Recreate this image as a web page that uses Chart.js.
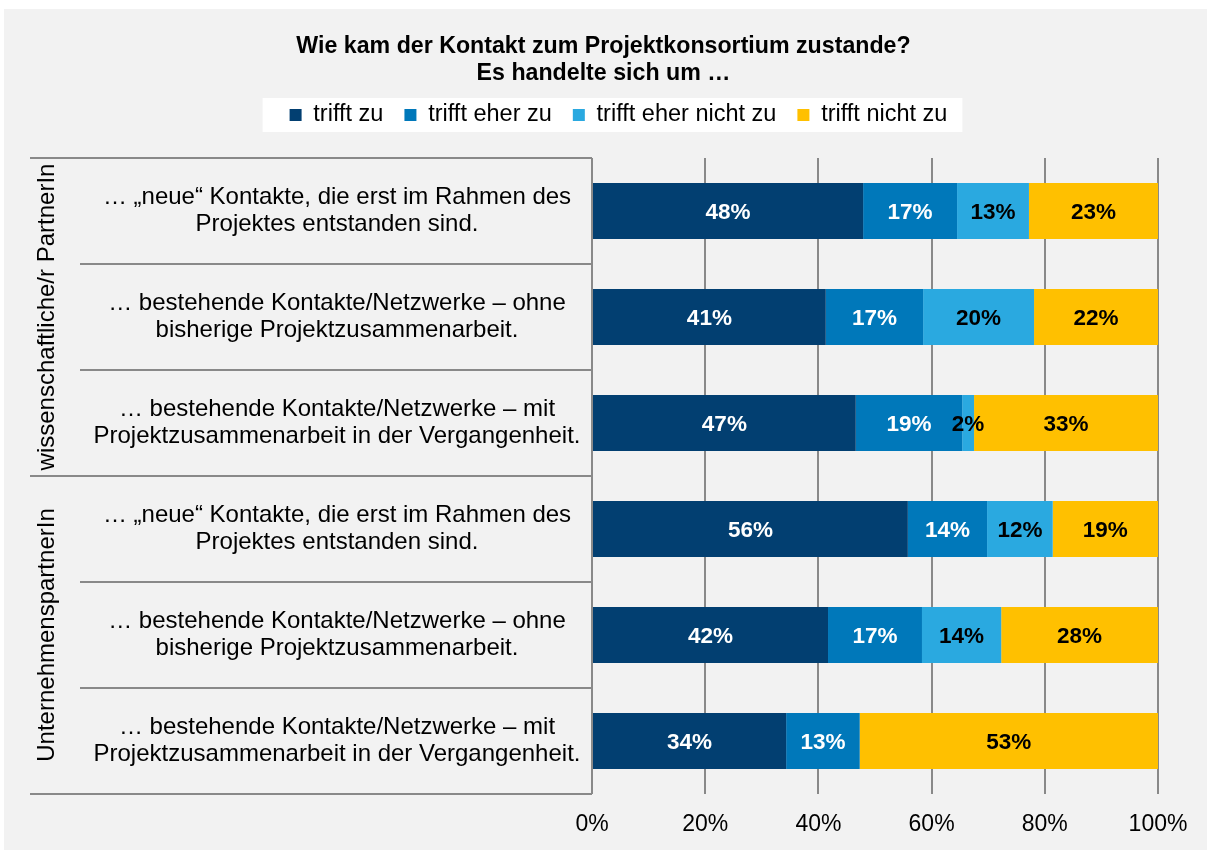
<!DOCTYPE html>
<html><head><meta charset="utf-8">
<script src="https://cdn.jsdelivr.net/npm/chart.js@4.4.1/dist/chart.umd.min.js"></script>
<style>
html,body{margin:0;padding:0;background:#ffffff;}
#panel{position:absolute;left:4px;top:9px;width:1203px;height:841px;background:#f2f2f2;}
#c{position:absolute;left:0;top:0;}
</style></head><body>
<div id="panel"></div>
<canvas id="c" width="1207" height="850"></canvas>
<script>
// ---- data ----
const titleLines = ["Wie kam der Kontakt zum Projektkonsortium zustande?", "Es handelte sich um …"];
const seriesNames = ["trifft zu", "trifft eher zu", "trifft eher nicht zu", "trifft nicht zu"];
const categories = [
  ["… „neue“ Kontakte, die erst im Rahmen des", "Projektes entstanden sind."],
  ["… bestehende Kontakte/Netzwerke – ohne", "bisherige Projektzusammenarbeit."],
  ["… bestehende Kontakte/Netzwerke – mit", "Projektzusammenarbeit in der Vergangenheit."],
  ["… „neue“ Kontakte, die erst im Rahmen des", "Projektes entstanden sind."],
  ["… bestehende Kontakte/Netzwerke – ohne", "bisherige Projektzusammenarbeit."],
  ["… bestehende Kontakte/Netzwerke – mit", "Projektzusammenarbeit in der Vergangenheit."]
];
const groupNames = ["wissenschaftliche/r PartnerIn", "UnternehmenspartnerIn"];
const groupSizes = [3, 3];
const trifftZu        = [47.9, 41.3, 46.6, 55.8, 41.7, 34.3];
const trifftEherZu    = [16.6, 17.2, 18.8, 14.0, 16.6, 13.0];
const trifftEherNicht = [12.7, 19.6,  2.1, 11.6, 14.0,  0.0];
const trifftNichtZu   = [22.8, 21.9, 32.5, 18.6, 27.7, 52.7];
const xTickStep = 20;

// ---- styles ----
const FAMILY = "'Liberation Sans', Arial, sans-serif";
const FS = 24;
const colors = ["#023f71", "#0078ba", "#2aa9e0", "#ffc000"];
const labelColors = ["#ffffff", "#ffffff", "#000000", "#000000"];
const GRID = "#898989";
const PAD_L = 49, PAD_R = 49, PAD_B = 14;
const PLOT_LEFT = 592;
const X_AXIS_H = 42;
const LABEL_CENTER = 337;
const SEP_X_ITEM = 80, SEP_X_GROUP = 30, GROUP_LABEL_X = 47;
const LEGEND_SHIFT = 15;

Chart.defaults.font.family = FAMILY;
Chart.defaults.color = "#000";

// measure widest category line for centred axis labels
const mctx = document.createElement('canvas').getContext('2d');
mctx.font = `normal ${FS}px ${FAMILY}`;
let widest = 0;
categories.forEach(l => l.forEach(s => { widest = Math.max(widest, mctx.measureText(s).width); }));
const yTickPadding = (PLOT_LEFT - LABEL_CENTER) - widest / 2;

const decor = {
  id: 'decor',
  beforeLayout(chart) {
    const lg = chart.legend;
    if (lg && !lg._patched) {
      const f = lg.fit;
      lg.fit = function () { f.call(this); this.height += 21.25; };
      lg._patched = true;
    }
  },
  afterLayout(chart) {
    const lg = chart.legend;
    if (lg) { lg.left += LEGEND_SHIFT; lg.right += LEGEND_SHIFT; }
  },
  beforeDraw(chart) {
    const lg = chart.legend;
    if (!lg || !lg.legendHitBoxes || !lg.legendHitBoxes.length) return;
    const hb = lg.legendHitBoxes;
    const first = hb[0], last = hb[hb.length - 1];
    const cy = first.top + first.height / 2;
    const ctx = chart.ctx;
    ctx.save();
    ctx.fillStyle = "#ffffff";
    ctx.fillRect(first.left - 27, cy - 17, (last.left + last.width + 15) - (first.left - 27), 34);
    ctx.restore();
  },
  afterDatasetsDraw(chart) {
    const ctx = chart.ctx;
    ctx.save();
    ctx.font = `bold 22.5px ${FAMILY}`;
    ctx.textAlign = 'center';
    ctx.textBaseline = 'middle';
    chart.data.datasets.forEach((ds, i) => {
      const meta = chart.getDatasetMeta(i);
      meta.data.forEach((bar, j) => {
        const v = ds.data[j];
        if (!v) return;
        ctx.fillStyle = labelColors[i];
        ctx.fillText(Math.round(v) + '%', (bar.x + bar.base) / 2, bar.y + 1.5);
      });
    });
    ctx.restore();
  },
  afterDraw(chart) {
    const ctx = chart.ctx;
    const ys = chart.scales.y;
    const n = categories.length;
    const px = i => ys.getPixelForValue(i);
    const half = (px(1) - px(0)) / 2;
    const boundary = k => px(0) - half + k * 2 * half; // k = 0..n
    const groupBounds = [0];
    groupSizes.forEach(s => groupBounds.push(groupBounds[groupBounds.length - 1] + s));
    ctx.save();
    ctx.strokeStyle = GRID;
    ctx.lineWidth = 2;
    for (let k = 0; k <= n; k++) {
      const y = Math.round(boundary(k));
      const x0 = groupBounds.includes(k) ? SEP_X_GROUP : SEP_X_ITEM;
      ctx.beginPath();
      ctx.moveTo(x0, y);
      ctx.lineTo(chart.chartArea.left, y);
      ctx.stroke();
    }
    ctx.fillStyle = "#000";
    ctx.font = `normal ${FS}px ${FAMILY}`;
    ctx.textAlign = 'center';
    ctx.textBaseline = 'middle';
    groupNames.forEach((g, gi) => {
      const yc = (boundary(groupBounds[gi]) + boundary(groupBounds[gi + 1])) / 2;
      ctx.save();
      ctx.translate(GROUP_LABEL_X, yc);
      ctx.rotate(-Math.PI / 2);
      ctx.fillText(g, 0, 0);
      ctx.restore();
    });
    ctx.restore();
  }
};

const seriesData = [trifftZu, trifftEherZu, trifftEherNicht, trifftNichtZu];

new Chart(document.getElementById('c'), {
  type: 'bar',
  data: {
    labels: categories,
    datasets: seriesNames.map((name, i) => ({
      label: name,
      data: seriesData[i],
      backgroundColor: colors[i],
      borderWidth: 0,
      barPercentage: 0.528,
      categoryPercentage: 1.0
    }))
  },
  options: {
    indexAxis: 'y',
    responsive: false,
    animation: false,
    devicePixelRatio: 1,
    layout: { padding: { left: PAD_L, right: PAD_R, top: 0, bottom: PAD_B } },
    plugins: {
      title: {
        display: true,
        text: titleLines,
        color: '#000',
        font: { size: 23.2, weight: 'bold', lineHeight: '27px' },
        padding: { top: 33.5, bottom: -5.25 }
      },
      legend: {
        display: true,
        position: 'top',
        labels: {
          boxWidth: 12, boxHeight: 12,
          padding: 21,
          color: '#000',
          font: { size: 23.5 }
        }
      },
      tooltip: { enabled: false }
    },
    scales: {
      x: {
        stacked: true,
        min: 0, max: 100,
        position: 'bottom',
        ticks: {
          stepSize: xTickStep,
          padding: 17,
          color: '#000',
          font: { size: 23 },
          callback: v => v + '%'
        },
        grid: { color: GRID, lineWidth: 2, drawTicks: false },
        border: { display: false },
        afterFit(scale) { scale.height = X_AXIS_H; }
      },
      y: {
        stacked: true,
        position: 'left',
        ticks: {
          crossAlign: 'center',
          padding: yTickPadding,
          color: '#000',
          font: { size: FS, lineHeight: '27px' },
          autoSkip: false
        },
        grid: { display: false, drawTicks: false },
        border: { display: false },
        afterFit(scale) { scale.width = PLOT_LEFT - PAD_L; }
      }
    }
  },
  plugins: [decor]
});
</script>
</body></html>
